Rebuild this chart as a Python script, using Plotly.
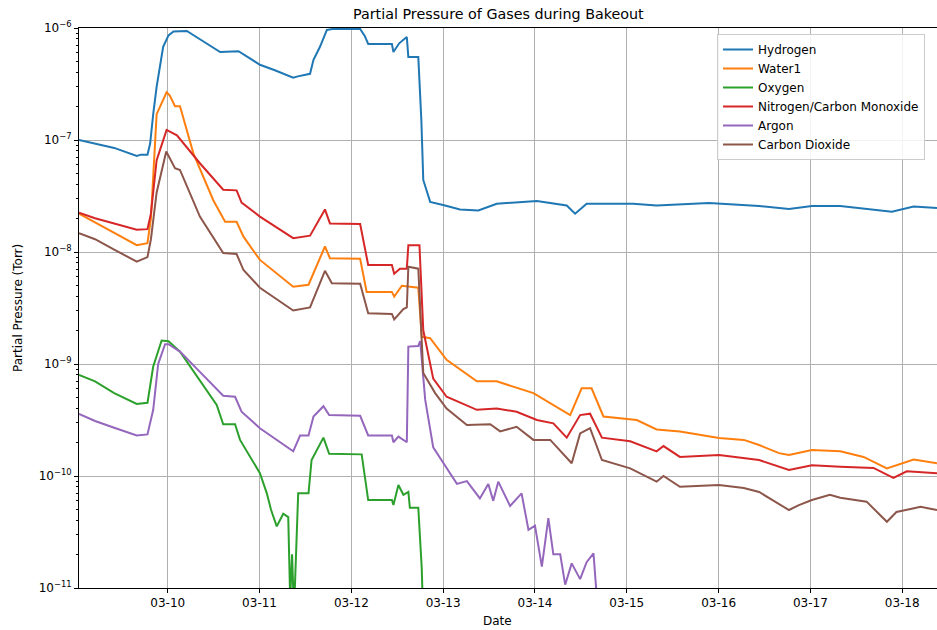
import pandas as pd
import plotly.graph_objects as go

# Time axis: hours elapsed since 03-09 00:00
START = "2021-03-09 00:00"

h2_hours = [0.8, 5, 10, 15.9, 17, 18.7, 19.4, 20.2, 21.1, 22.8, 24.2, 25.5, 29.0, 32.0, 37.7, 42.5,
            48.1, 52.0, 56.8, 58.0, 61.2, 62.1, 63.8, 65.6, 67.0, 74.3, 75.5, 76.4, 82.6, 83.0, 84.5,
            86.5, 86.9, 89.5, 90.3, 90.8, 92.6, 96.5, 100.4, 105.2, 110.0, 120.5, 128.3, 130.5, 133.5,
            145.7, 151.8, 165.5, 178.6, 186.4, 192.4, 199.8, 213.3, 219.0, 225.1]
h2_vals = [1.0e-7, 9.3e-8, 8.5e-8, 7.2e-8, 7.4e-8, 7.4e-8, 9.3e-8, 1.7e-7, 3.0e-7, 6.8e-7, 8.6e-7, 9.3e-7,
           9.4e-7, 8.1e-7, 6.1e-7, 6.2e-7, 4.7e-7, 4.2e-7, 3.6e-7, 3.7e-7, 3.9e-7, 5.2e-7, 6.8e-7, 9.6e-7,
           9.8e-7, 9.8e-7, 8.5e-7, 7.2e-7, 7.2e-7, 6.1e-7, 7.3e-7, 8.3e-7, 5.5e-7, 5.5e-7, 1.5e-7, 4.4e-8,
           2.8e-8, 2.6e-8, 2.4e-8, 2.35e-8, 2.7e-8, 2.85e-8, 2.6e-8, 2.2e-8, 2.7e-8, 2.7e-8, 2.6e-8,
           2.74e-8, 2.58e-8, 2.42e-8, 2.58e-8, 2.58e-8, 2.29e-8, 2.55e-8, 2.47e-8]

water_hours = [0.8, 3, 8, 15.9, 18.7, 19.6, 21.1, 23.7, 24.5, 25.9, 27.2, 30.7, 35.9, 39.0, 42.0, 43.8,
               48.1, 56.8, 60.8, 65.1, 66.4, 74.3, 76.0, 82.6, 83.2, 85.2, 89.5, 90.4, 92.6, 96.9, 104.8,
               110.0, 119.6, 129.2, 132.2, 134.8, 137.9, 146.6, 151.8, 157.9, 168.1, 174.6, 178.6, 183.8,
               186.4, 192.4, 199.8, 205.9, 212.0, 219.0, 225.1]
water_vals = [2.2e-8, 2.0e-8, 1.6e-8, 1.15e-8, 1.2e-8, 2.0e-8, 1.7e-7, 2.67e-7, 2.5e-7, 2.0e-7, 2.0e-7,
              7.6e-8, 2.9e-8, 1.86e-8, 1.86e-8, 1.37e-8, 8.5e-9, 4.9e-9, 5.1e-9, 1.12e-8, 8.8e-9, 8.7e-9,
              4.4e-9, 4.4e-9, 4.0e-9, 5.0e-9, 4.8e-9, 1.75e-9, 1.7e-9, 1.09e-9, 7.0e-10, 7.0e-10, 5.5e-10,
              3.5e-10, 6.07e-10, 6.07e-10, 3.4e-10, 3.16e-10, 2.6e-10, 2.5e-10, 2.18e-10, 2.1e-10, 1.89e-10,
              1.6e-10, 1.54e-10, 1.71e-10, 1.66e-10, 1.48e-10, 1.17e-10, 1.4e-10, 1.3e-10]

o2_hours = [0.8, 5, 10, 15.9, 18.7, 20.2, 22.4, 24.2, 27.2, 32.4, 36.8, 38.5, 41.6, 42.9, 48.1, 49.9,
            51.0, 52.5, 54.2, 55.5, 56.0, 56.5, 57.0, 58.1, 60.8, 61.6, 64.7, 66.2, 74.7, 76.4, 82.6,
            83.0, 84.3, 85.6, 86.9, 87.3, 89.5, 90.4, 90.8]
o2_vals = [8.0e-10, 7.0e-10, 5.5e-10, 4.4e-10, 4.5e-10, 9.5e-10, 1.62e-9, 1.6e-9, 1.29e-9, 7.2e-10,
           4.3e-10, 2.9e-10, 2.9e-10, 2.1e-10, 1.06e-10, 7.0e-11, 5.0e-11, 3.55e-11, 4.6e-11, 4.3e-11,
           8e-12, 2.0e-11, 6e-12, 7.0e-11, 7.0e-11, 1.39e-10, 2.2e-10, 1.58e-10, 1.56e-10, 6.1e-11,
           6.1e-11, 5.5e-11, 8.3e-11, 6.8e-11, 7.2e-11, 5.2e-11, 5.2e-11, 1.5e-11, 5e-12]

n2_hours = [0.8, 5, 10, 15.9, 18.7, 19.6, 21.1, 23.7, 26.4, 32.4, 38.5, 42.0, 43.3, 48.1, 56.8, 61.2,
            65.1, 66.4, 74.3, 76.4, 82.6, 83.2, 84.7, 86.5, 86.9, 89.8, 90.8, 93.4, 96.9, 104.8, 110.0,
            115.2, 120.5, 124.8, 128.3, 131.8, 134.4, 137.5, 144.9, 151.8, 153.6, 157.9, 168.1, 174.6,
            178.6, 186.4, 192.4, 199.8, 208.5, 213.7, 217.2, 225.1]
n2_vals = [2.24e-8, 2.0e-8, 1.8e-8, 1.58e-8, 1.6e-8, 2.2e-8, 6.6e-8, 1.23e-7, 1.1e-7, 6.2e-8, 3.6e-8,
           3.55e-8, 2.76e-8, 2.07e-8, 1.33e-8, 1.4e-8, 2.4e-8, 1.8e-8, 1.78e-8, 7.65e-9, 7.65e-9, 6.4e-9,
           7.1e-9, 7.1e-9, 1.15e-8, 1.15e-8, 2.0e-9, 7.4e-10, 5.1e-10, 3.9e-10, 4.0e-10, 3.75e-10,
           3.16e-10, 2.95e-10, 2.2e-10, 3.5e-10, 3.6e-10, 2.2e-10, 2.04e-10, 1.66e-10, 1.85e-10, 1.48e-10,
           1.54e-10, 1.45e-10, 1.39e-10, 1.13e-10, 1.25e-10, 1.21e-10, 1.18e-10, 9.6e-11, 1.1e-10, 1.06e-10]

ar_hours = [0.8, 5, 10, 15.9, 18.7, 20.2, 21.5, 23.3, 24.2, 27.2, 32.4, 38.5, 41.6, 43.3, 48.1, 56.8,
            58.6, 60.8, 62.1, 64.7, 66.2, 74.3, 76.4, 82.6, 83.0, 84.3, 86.5, 86.9, 89.5, 90.0, 91.3,
            93.4, 96.1, 99.6, 102.2, 105.6, 107.8, 109.1, 110.4, 113.5, 116.5, 118.3, 120.0, 121.8,
            123.5, 124.8, 126.6, 127.9, 129.6, 131.8, 133.5, 135.3, 136.2]
ar_vals = [3.58e-10, 3.1e-10, 2.7e-10, 2.3e-10, 2.35e-10, 3.9e-10, 1.0e-9, 1.5e-9, 1.5e-9, 1.29e-9,
           8.5e-10, 5.2e-10, 5.1e-10, 3.75e-10, 2.67e-10, 1.66e-10, 2.3e-10, 2.3e-10, 3.4e-10, 4.2e-10,
           3.5e-10, 3.45e-10, 2.3e-10, 2.3e-10, 2.0e-10, 2.25e-10, 2.0e-10, 1.43e-9, 1.45e-9, 1.6e-9,
           4.8e-10, 1.8e-10, 1.3e-10, 8.5e-11, 9.0e-11, 6.3e-11, 8.5e-11, 6.0e-11, 8.9e-11, 5.4e-11,
           7.0e-11, 3.3e-11, 3.6e-11, 1.55e-11, 4.2e-11, 2.0e-11, 2.0e-11, 1.07e-11, 1.66e-11, 1.2e-11,
           1.7e-11, 2.04e-11, 8e-12]

co2_hours = [0.8, 5, 10, 15.9, 18.7, 19.6, 21.1, 23.6, 25.9, 27.2, 32.4, 38.5, 42.0, 43.8, 48.1, 56.8,
             61.2, 65.1, 66.9, 74.3, 76.4, 82.6, 83.2, 85.6, 86.5, 86.9, 89.5, 90.8, 93.9, 96.9, 102.2,
             108.3, 110.9, 115.2, 119.6, 124.0, 129.6, 131.8, 134.4, 137.5, 144.9, 151.8, 153.6, 157.9,
             168.1, 174.6, 178.6, 186.4, 189.0, 192.4, 197.1, 199.8, 206.7, 212.0, 214.5, 220.8, 225.1]
co2_vals = [1.47e-8, 1.3e-8, 1.05e-8, 8.2e-9, 9.0e-9, 1.3e-8, 3.4e-8, 7.9e-8, 5.6e-8, 5.4e-8, 2.07e-8,
            9.8e-9, 9.6e-9, 6.9e-9, 4.8e-9, 3.0e-9, 3.2e-9, 6.8e-9, 5.25e-9, 5.2e-9, 2.84e-9, 2.8e-9,
            2.5e-9, 3.1e-9, 3.2e-9, 7.4e-9, 7.1e-9, 8.3e-10, 5.5e-10, 4.0e-10, 2.85e-10, 2.9e-10, 2.5e-10,
            2.75e-10, 2.1e-10, 2.1e-10, 1.3e-10, 2.4e-10, 2.67e-10, 1.39e-10, 1.17e-10, 8.9e-11, 1.0e-10,
            8.0e-11, 8.3e-11, 7.8e-11, 7.2e-11, 4.97e-11, 5.5e-11, 6.1e-11, 6.8e-11, 6.4e-11, 5.9e-11,
            3.9e-11, 4.77e-11, 5.3e-11, 4.97e-11]

series = [
    ("Hydrogen", h2_hours, h2_vals, "#1f77b4"),
    ("Water1", water_hours, water_vals, "#ff7f0e"),
    ("Oxygen", o2_hours, o2_vals, "#2ca02c"),
    ("Nitrogen/Carbon Monoxide", n2_hours, n2_vals, "#d62728"),
    ("Argon", ar_hours, ar_vals, "#9467bd"),
    ("Carbon Dioxide", co2_hours, co2_vals, "#8c564b"),
]

tick_dates = ["2021-03-%02d" % d for d in range(10, 19)]
y_ticks = [1e-11, 1e-10, 1e-9, 1e-8, 1e-7, 1e-6]
y_ticktext = ["10<sup>−11</sup>", "10<sup>−10</sup>", "10<sup>−9</sup>", "10<sup>−8</sup>",
              "10<sup>−7</sup>", "10<sup>−6</sup>"]
minor_vals = [m * 10.0 ** e for e in range(-11, -6) for m in range(2, 10)]

start = pd.Timestamp(START)
fig = go.Figure()
for name, hrs, vals, color in series:
    t = [start + pd.Timedelta(hours=h) for h in hrs]
    fig.add_trace(go.Scatter(x=t, y=vals, mode="lines", name=name,
                             line=dict(color=color, width=2)))

FONT = "DejaVu Sans"
W, H = 937, 630
fig.update_layout(
    width=W, height=H,
    margin=dict(l=79, r=0, t=28, b=42),
    paper_bgcolor="white", plot_bgcolor="white",
    font=dict(family=FONT, size=12, color="#000"),
    showlegend=True,
    legend=dict(x=(717 - 79) / 858, y=1 - (34 - 28) / 560, xanchor="left", yanchor="top",
                bgcolor="rgba(255,255,255,0.85)", bordercolor="#cccccc", borderwidth=1,
                font=dict(size=12, family=FONT, color="#000"), tracegroupgap=0),
)
fig.update_xaxes(
    type="date",
    range=[start + pd.Timedelta(hours=0.8), start + pd.Timedelta(hours=225.1)],
    tickmode="array", tickvals=tick_dates, tickformat="%m-%d",
    showgrid=True, gridcolor="#b0b0b0", gridwidth=1,
    showline=True, linecolor="#000", linewidth=1, mirror=True,
    ticks="outside", ticklen=4, tickcolor="#000", tickfont=dict(size=12),
    zeroline=False, automargin=False,
)
fig.update_yaxes(
    type="log", range=[-11, -6],
    tickmode="array", tickvals=y_ticks, ticktext=y_ticktext,
    showgrid=True, gridcolor="#b0b0b0", gridwidth=1,
    showline=True, linecolor="#000", linewidth=1, mirror=True,
    ticks="outside", ticklen=4, tickcolor="#000", tickfont=dict(size=12),
    minor=dict(tickmode="array", tickvals=minor_vals, ticks="outside", ticklen=2,
               tickcolor="#000", showgrid=False),
    zeroline=False, automargin=False,
)
fig.add_annotation(text="Partial Pressure of Gases during Bakeout", xref="paper", yref="paper",
                   x=(498.5 - 79) / 858, y=1 + (28 - 14) / 560, showarrow=False,
                   xanchor="center", yanchor="middle",
                   font=dict(size=14.3, family=FONT, color="#000"))
fig.add_annotation(text="Date", xref="paper", yref="paper", x=(497 - 79) / 858, y=-(621 - 588) / 560,
                   showarrow=False, xanchor="center", yanchor="middle",
                   font=dict(size=12, family=FONT, color="#000"))
fig.add_annotation(text="Partial Pressure (Torr)", xref="paper", yref="paper",
                   x=-(79 - 18) / 858, y=0.5, textangle=-90, showarrow=False,
                   xanchor="center", yanchor="middle",
                   font=dict(size=12, family=FONT, color="#000"))

fig.write_html("out.html", config={"displayModeBar": False},
               post_script="document.body.style.margin='0px';document.body.style.overflow='hidden';")
